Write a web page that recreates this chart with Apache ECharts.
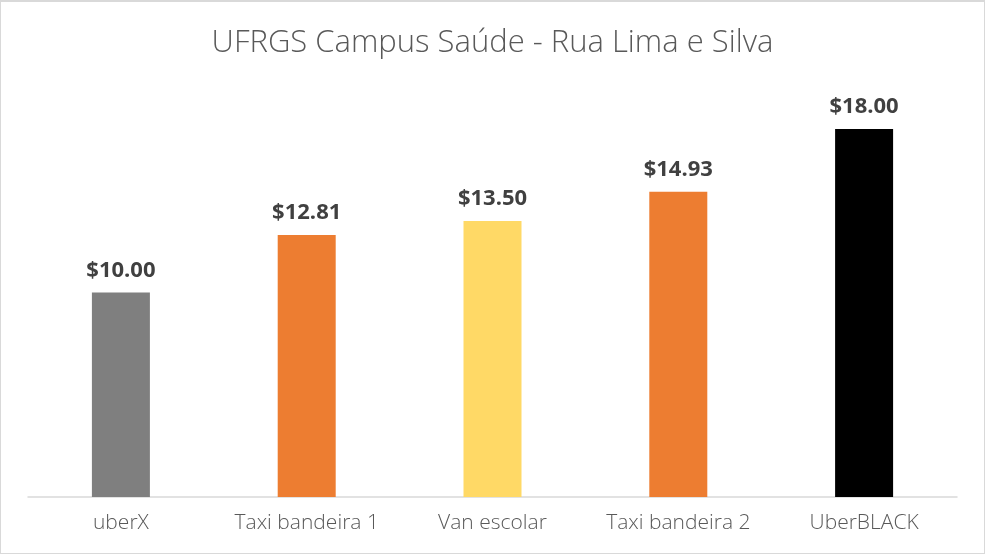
<!DOCTYPE html>
<html><head><meta charset="utf-8">
<script src="https://cdn.jsdelivr.net/npm/echarts@6/dist/echarts.min.js"></script>
<style>html,body{margin:0;padding:0;background:#fff}#c{width:985px;height:554px;box-sizing:border-box;border:1px solid #d9d9d9;border-top-width:2px}</style>
</head><body><div id="c"></div>
<script>
const categories = ["uberX", "Taxi bandeira 1", "Van escolar", "Taxi bandeira 2", "UberBLACK"];
const values = [10.00, 12.81, 13.50, 14.93, 18.00];
const barColors = ["#7f7f7f", "#ed7d31", "#ffd966", "#ed7d31", "#000000"];
const chart = echarts.init(document.getElementById('c'));
chart.setOption({
  animation: false,
  title: {text: "UFRGS Campus Saúde - Rua Lima e Silva", left: 'center', top: 21,
    textStyle: {fontFamily: 'Open Sans', fontWeight: 300, fontSize: 31, color: '#595959'}},
  grid: {left: 27, right: 27, top: 86, bottom: 56},
  xAxis: {type: 'category', data: categories,
    axisLine: {lineStyle: {color: '#d9d9d9', width: 1.5}}, axisTick: {show: false},
    axisLabel: {interval: 0, fontFamily: 'Open Sans', fontWeight: 300, fontSize: 21, color: '#595959', margin: 16}},
  yAxis: {type: 'value', min: 0, max: 20, show: false, splitLine: {show: false}},
  series: [{type: 'bar', barWidth: 58,
    data: values.map((v, i) => ({value: v, itemStyle: {color: barColors[i]}})),
    label: {show: true, position: 'top', distance: 11, fontFamily: 'Open Sans', fontWeight: 'bold',
      fontSize: 22, color: '#404040', formatter: p => '$' + p.value.toFixed(2)}}]
});
</script></body></html>
